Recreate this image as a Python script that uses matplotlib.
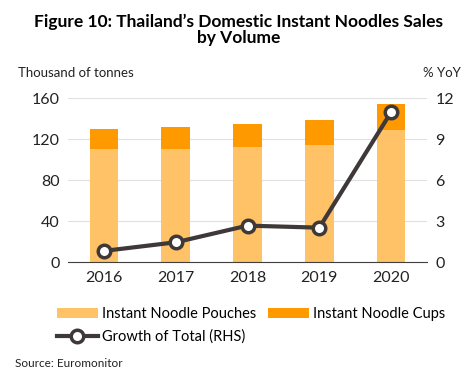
import numpy as np
import matplotlib.pyplot as plt

plt.rcParams['font.family'] = ['Lato', 'DejaVu Sans']

years = ['2016', '2017', '2018', '2019', '2020']
pouches = [110, 110.5, 112.5, 114.5, 129]
cups = [20, 21.5, 22.5, 24.5, 25.5]
growth = [0.83, 1.46, 2.68, 2.53, 10.98]

fig = plt.figure(figsize=(4.73, 3.79), dpi=100)
ax = fig.add_axes([0.1438, 0.308, 0.759, 0.433])
x = np.arange(len(years))

ax.bar(x, pouches, width=0.4, color='#FFC266', label='Instant Noodle Pouches', zorder=2)
ax.bar(x, cups, width=0.4, bottom=pouches, color='#FF9900', label='Instant Noodle Cups', zorder=2)
ax.set_ylim(0, 160)
ax.set_yticks([0, 40, 80, 120, 160])
ax.set_xlim(-0.5, 4.5)
ax.set_xticks(x)
ax.set_xticklabels(years)
ax.grid(axis='y', color='#E0E0E0', linewidth=0.8, zorder=0)
for s in ['top', 'right', 'left']:
    ax.spines[s].set_visible(False)
ax.spines['bottom'].set_color('#404040')
ax.tick_params(length=0, labelsize=11.5, colors='#222222', pad=6)

ax2 = ax.twinx()
ax2.plot(x, growth, color='#3F3838', linewidth=3, marker='o', markersize=9,
         markerfacecolor='white', markeredgewidth=2.5, markeredgecolor='#3F3838',
         label='Growth of Total (RHS)', zorder=3)
ax2.set_ylim(0, 12)
ax2.set_yticks([0, 3, 6, 9, 12])
for s in ['top', 'right', 'left', 'bottom']:
    ax2.spines[s].set_visible(False)
ax2.tick_params(length=0, labelsize=11.5, colors='#222222', pad=6)

fig.text(0.505, 0.965, 'Figure 10: Thailand\u2019s Domestic Instant Noodles Sales\nby Volume',
         ha='center', va='top', fontsize=12.5, fontweight='bold', linespacing=1.05)
fig.text(0.038, 0.808, 'Thousand of tonnes', fontsize=9.5, va='center', color='#222222')
fig.text(0.975, 0.808, '% YoY', fontsize=9.5, va='center', ha='right', color='#222222')

h1, l1 = ax.get_legend_handles_labels()
h2, l2 = ax2.get_legend_handles_labels()
fig.legend([h1[0], h2[0], h1[1]], [l1[0], l2[0], l1[1]], ncol=2, loc='upper left',
           bbox_to_anchor=(0.108, 0.205), frameon=False, fontsize=10.5,
           handlelength=2.8, handleheight=0.6, columnspacing=0.8, handletextpad=0.3,
           labelspacing=0.55, borderaxespad=0)
fig.text(0.032, 0.04, 'Source: Euromonitor', fontsize=8.5, va='center', color='#222222')

fig.savefig('out.png', dpi=100)
